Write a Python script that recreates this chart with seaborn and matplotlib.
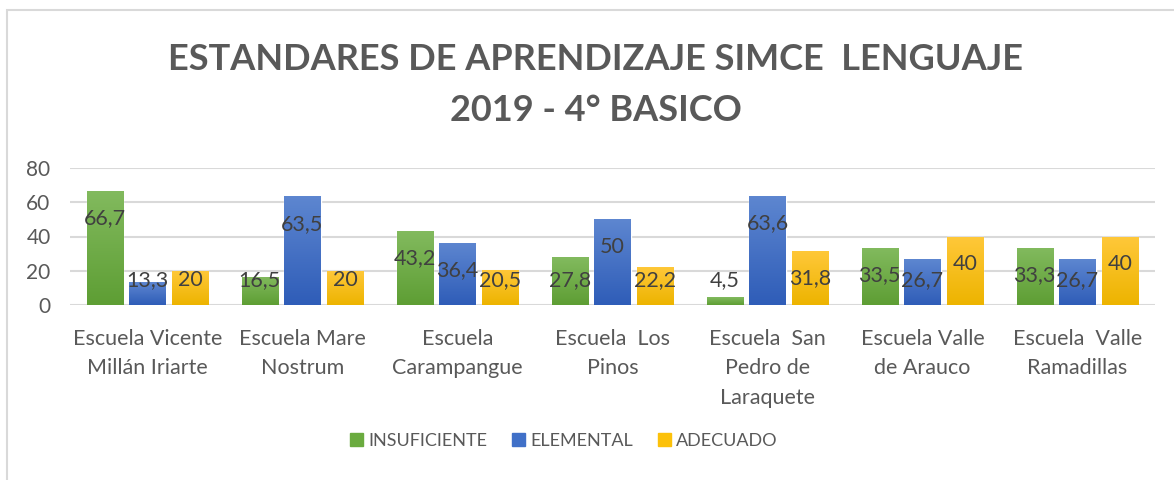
import numpy as np
import pandas as pd
import matplotlib
matplotlib.use("Agg")
import matplotlib.pyplot as plt
import seaborn as sns
from matplotlib.patches import Rectangle
from matplotlib.colors import LinearSegmentedColormap

categories = ["Escuela Vicente\nMillán Iriarte", "Escuela Mare\nNostrum", "Escuela\nCarampangue",
              "Escuela  Los\nPinos", "Escuela  San\nPedro de\nLaraquete", "Escuela Valle\nde Arauco",
              "Escuela  Valle\nRamadillas"]
series = ["INSUFICIENTE", "ELEMENTAL", "ADECUADO"]
insuficiente = [66.7, 16.5, 43.2, 27.8, 4.5, 33.5, 33.3]
elemental = [13.3, 63.5, 36.4, 50.0, 63.6, 26.7, 26.7]
adecuado = [20.0, 20.0, 20.5, 22.2, 31.8, 40.0, 40.0]
yticks = [0, 20, 40, 60, 80]
title = "ESTANDARES DE APRENDIZAJE SIMCE  LENGUAJE\n2019 - 4° BASICO"

colors = ["#6AAB3F", "#4070C8", "#FCC10A"]
tops = ["#82BA5E", "#5D86D0", "#FFC83A"]
bots = ["#5E9E34", "#2F5DB8", "#EDB400"]

df = pd.DataFrame({
    "cat": categories * 3,
    "serie": [s for s in series for _ in categories],
    "val": insuficiente + elemental + adecuado,
})

sns.set_theme(style="white")
plt.rcParams['font.family'] = ['Lato', 'DejaVu Sans']

fig = plt.figure(figsize=(11.74, 4.80), dpi=100)
ax = fig.add_axes([70/1174, 1 - 305/480, 1085/1174, 137/480])

sns.barplot(data=df, x="cat", y="val", hue="serie", palette=colors, width=0.83, gap=0.16,
            ax=ax, legend=False, saturation=1)

ax.set_ylim(0, 80)
ax.set_yticks(yticks)
ax.set_xlim(-0.5, len(categories) - 0.5)
ax.grid(axis="y", color="#D9D9D9", lw=1.5)
ax.set_axisbelow(True)
for s in ax.spines.values():
    s.set_visible(False)
ax.axhline(0, color="#D9D9D9", lw=2, zorder=1)
ax.set_xlabel("")
ax.set_ylabel("")
ax.tick_params(axis="y", labelsize=15, colors="#595959", length=0, pad=14)
ax.tick_params(axis="x", labelsize=15.5, colors="#595959", length=0, pad=17)
for t in ax.get_xticklabels():
    t.set_linespacing(1.6)
    t.set_va("top")

# gradient fill + labels
for i, cont in enumerate(ax.containers):
    cmap = LinearSegmentedColormap.from_list("g", [bots[i], tops[i]])
    for bar in cont:
        x0, w, h = bar.get_x(), bar.get_width(), bar.get_height()
        grad = np.linspace(0, 1, 64).reshape(-1, 1)
        im = ax.imshow(grad, cmap=cmap, origin="lower", aspect="auto",
                       extent=[x0, x0 + w, 0, h], zorder=2.5)
        im.set_clip_path(bar)
        ax.text(x0 + w / 2, max(h - 16, 14.5), f"{h:g}".replace(".", ","),
                ha="center", va="center", fontsize=15.5, color="#404040", zorder=4)
ax.set_xlim(-0.5, len(categories) - 0.5)
ax.set_ylim(0, 80)

fig.text(596/1174, 1 - 85/480, title, ha="center", va="center", fontsize=26,
         fontweight="bold", color="#595959", linespacing=1.7)

# legend
handles = [Rectangle((0, 0), 1, 1, color=c) for c in colors]
fig.legend(handles, series, loc="center", bbox_to_anchor=(564/1174, 1 - 441/480), ncol=3,
           frameon=False, fontsize=13, labelcolor="#595959", handlelength=0.7,
           handleheight=0.7, handletextpad=0.3, columnspacing=1.4)

fig.patches.append(Rectangle((7/1174, -0.1), 1.2, 1 - 10/480 + 0.1, transform=fig.transFigure,
                             fill=False, edgecolor="#D9D9D9", lw=1.5))

fig.savefig("out.png", dpi=100)
